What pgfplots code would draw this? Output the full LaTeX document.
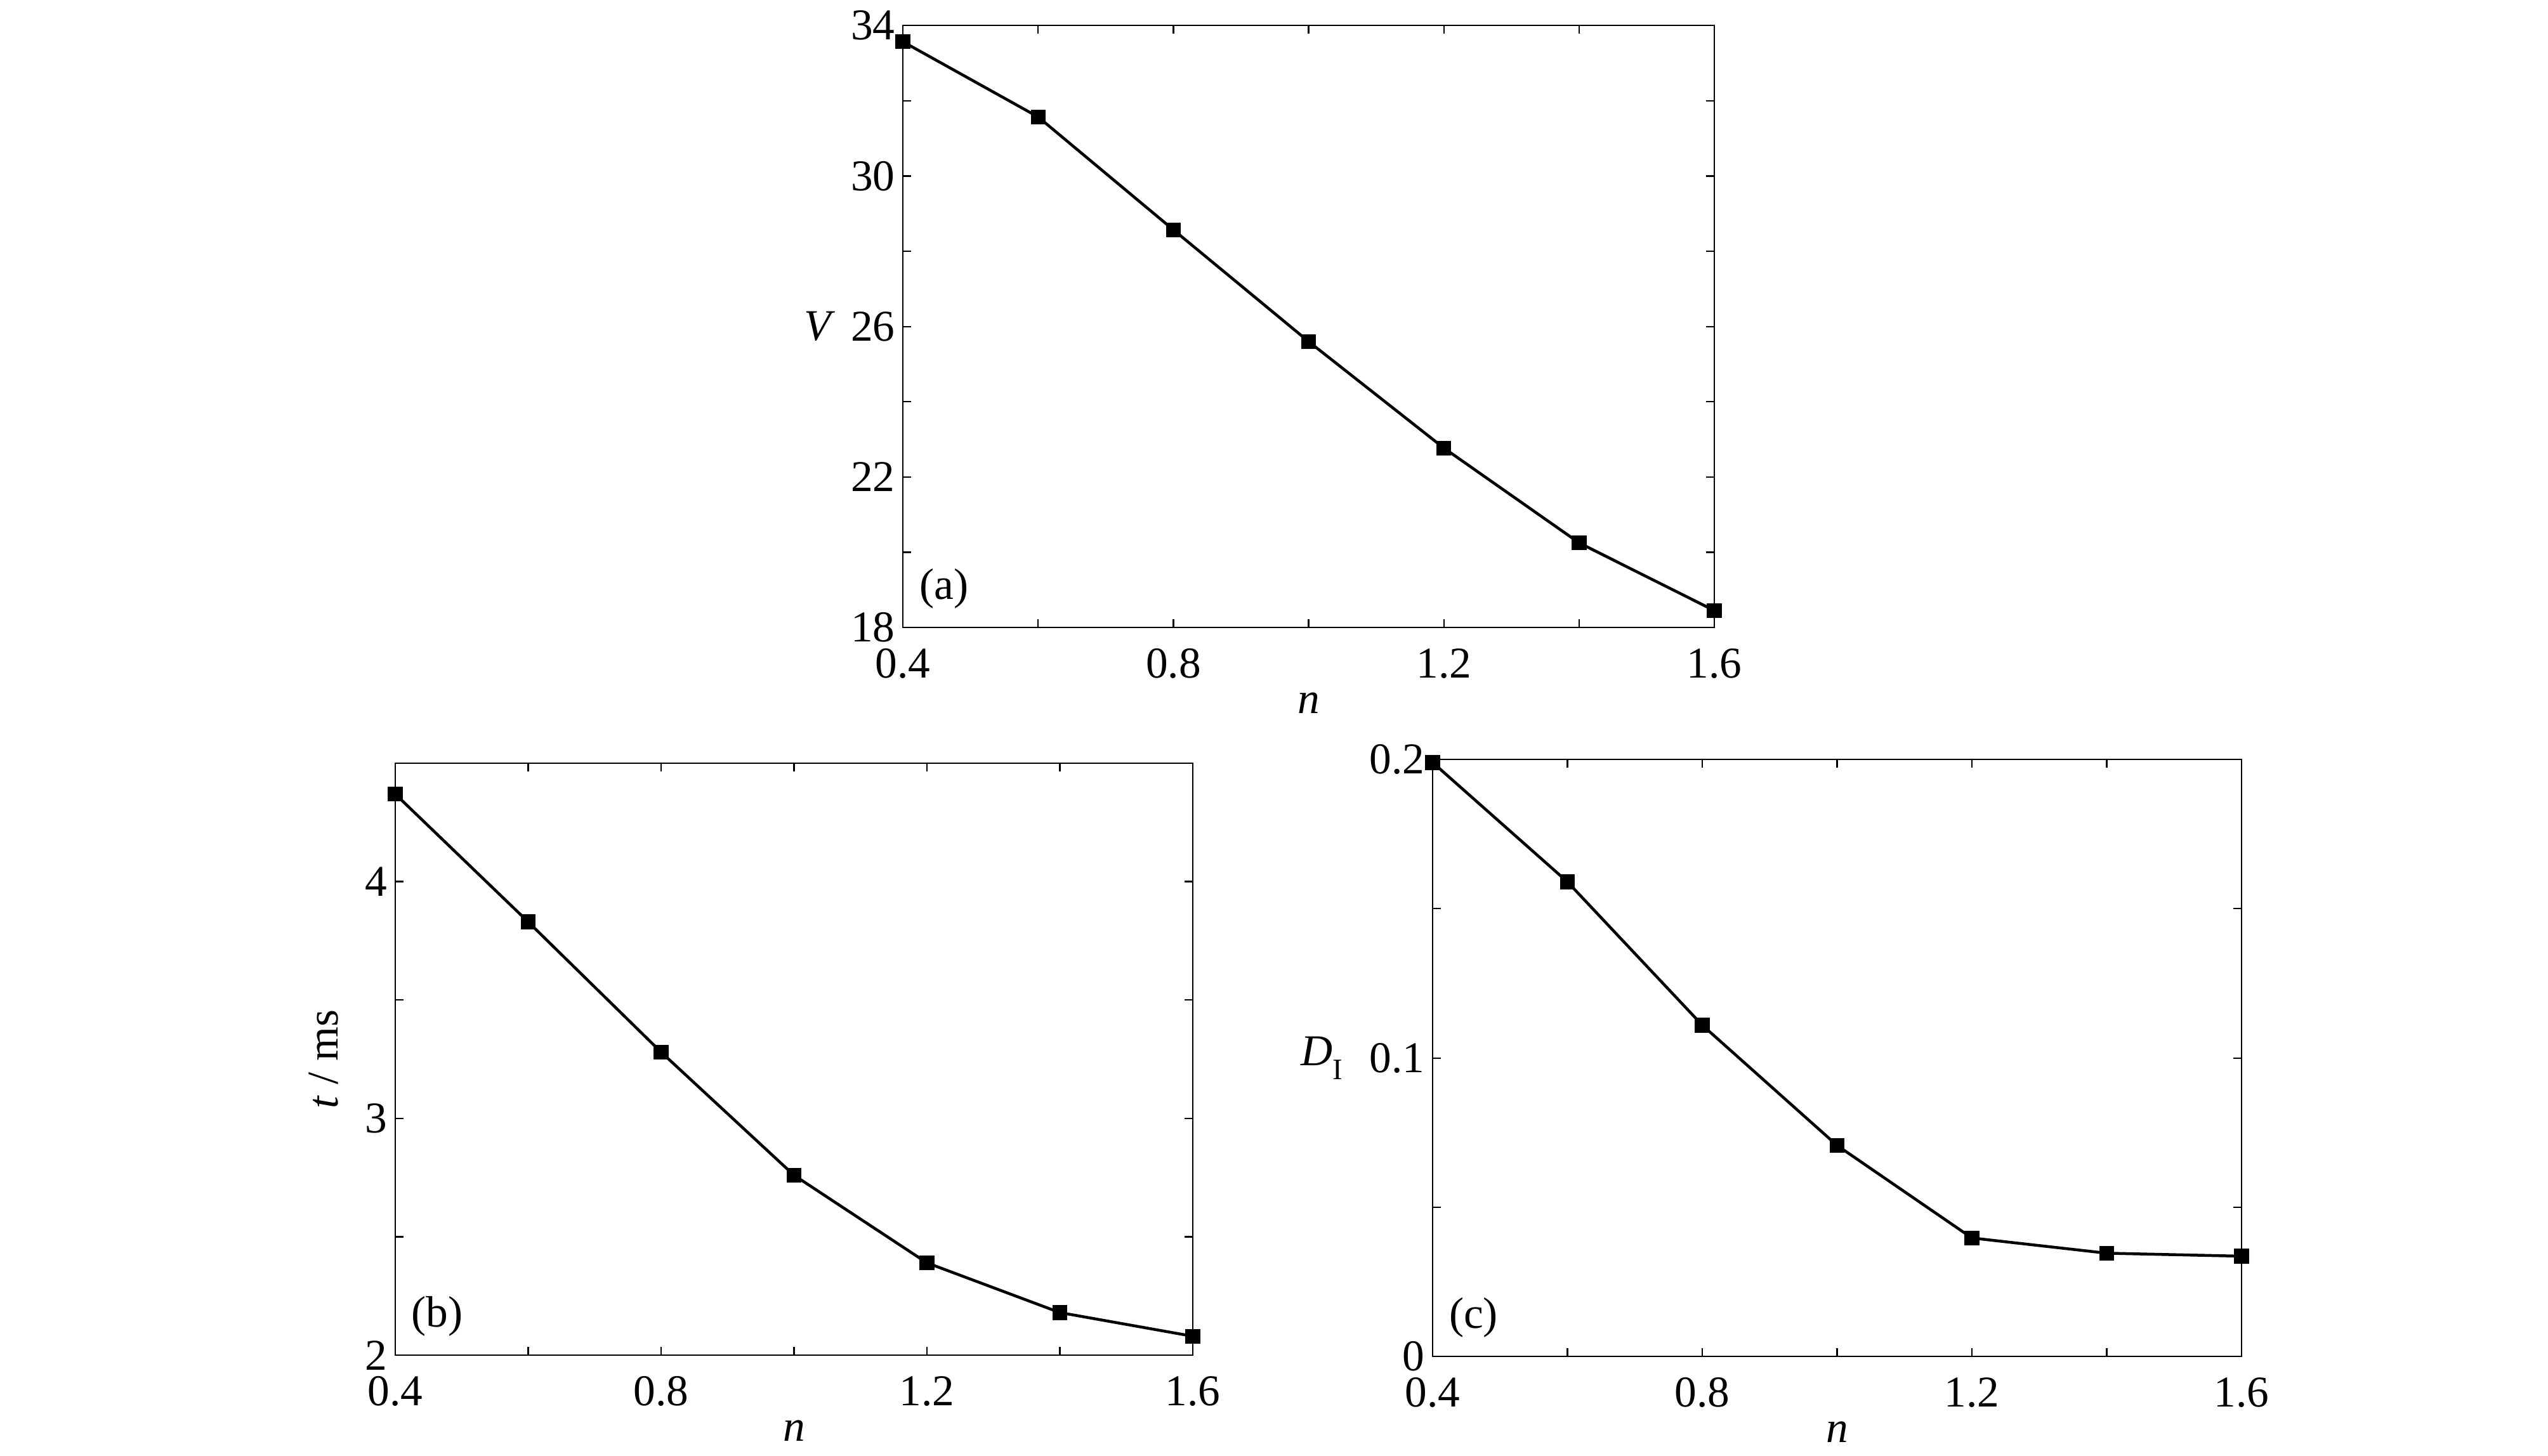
\documentclass[border=0pt]{standalone}
\usepackage{fontspec}
\setmainfont{Liberation Serif}
\usepackage{pgfplots}
\pgfplotsset{compat=1.18}
\pgfplotsset{
  panel/.style={
    scale only axis,
    anchor=south west,
    xmin=0.4, xmax=1.6,
    xtick={0.4,0.6,0.8,1.0,1.2,1.4,1.6},
    xticklabels={0.4,,0.8,,1.2,,1.6},
    tick pos=both,
    tick align=inside,
    major tick length=0.05cm,
    axis line style={line width=0.25pt},
    every tick/.style={line width=0.25pt, black},
    xlabel={\textit{n}},
    clip=false,
    yticklabel style={inner sep=1.2pt},
    xticklabel style={inner sep=3.5pt},
    xlabel style={yshift=4.5pt},
    /pgf/number format/assume math mode=true,
  },
  ser/.style={black, line width=0.5pt, mark=square*, mark size=1.05pt, mark options={solid}},
}
\begin{document}
\begin{tikzpicture}[font=\fontsize{7.7}{9}\selectfont]
\useasboundingbox (0,0) rectangle (15.68,8.957);
% (a)
\begin{axis}[panel, at={(5.556cm,5.095cm)}, width=4.994cm, height=3.705cm,
  ymin=18, ymax=34,
  ytick={18,20,22,24,26,28,30,32,34},
  yticklabels={18,,22,,26,,30,,34},
  ylabel={\textit{V}}, ylabel style={rotate=-90, xshift=2pt}]
\addplot[ser] coordinates {(0.4,33.57)(0.6,31.57)(0.8,28.57)(1.0,25.6)(1.2,22.77)(1.4,20.25)(1.6,18.45)};
\node[anchor=south west, inner sep=0pt] at (rel axis cs:0.019,0.03) {(a)};
\end{axis}
% (b)
\begin{axis}[panel, at={(2.432cm,0.617cm)}, width=4.908cm, height=3.643cm,
  ymin=2, ymax=4.5,
  ytick={2,2.5,3,3.5,4,4.5},
  yticklabels={2,,3,,4,},
  ylabel={\textit{t} / ms}]
\addplot[ser] coordinates {(0.4,4.37)(0.6,3.83)(0.8,3.28)(1.0,2.76)(1.2,2.39)(1.4,2.18)(1.6,2.08)};
\node[anchor=south west, inner sep=0pt] at (rel axis cs:0.019,0.03) {(b)};
\end{axis}
% (c)
\begin{axis}[panel, at={(8.816cm,0.609cm)}, width=4.978cm, height=3.674cm,
  ymin=0, ymax=0.2,
  ytick={0,0.05,0.1,0.15,0.2},
  yticklabels={0,,0.1,,0.2},
  ylabel={\textit{D}\raisebox{-0.32em}{\fontsize{5.2}{6}\selectfont I}}, ylabel style={rotate=-90}]
\addplot[ser] coordinates {(0.4,0.199)(0.6,0.159)(0.8,0.111)(1.0,0.0707)(1.2,0.0397)(1.4,0.0346)(1.6,0.0336)};
\node[anchor=south west, inner sep=0pt] at (rel axis cs:0.019,0.03) {(c)};
\end{axis}
\end{tikzpicture}
\end{document}
